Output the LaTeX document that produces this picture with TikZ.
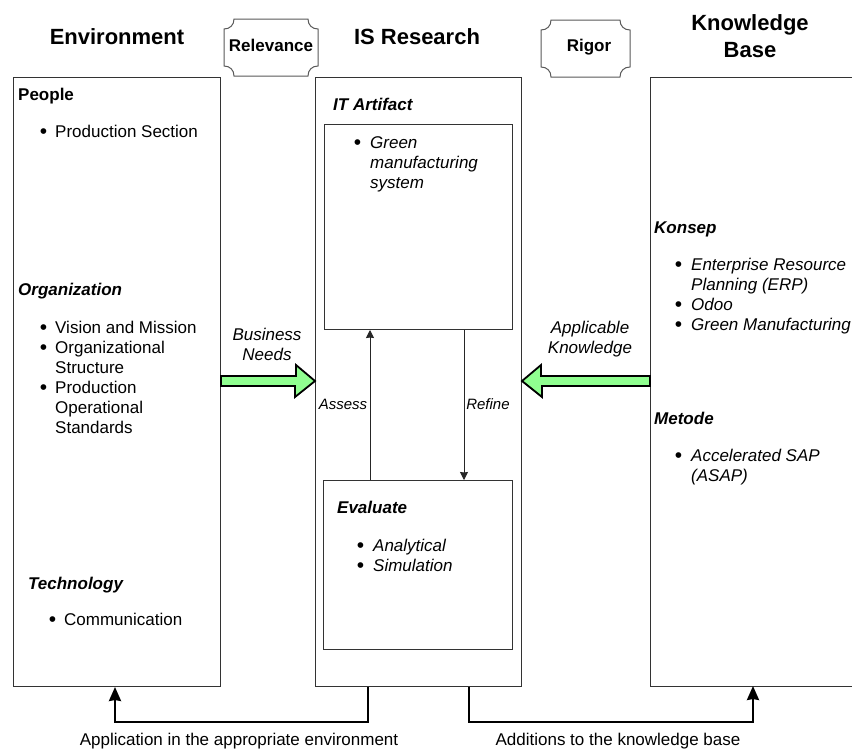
\documentclass[tikz,border=0pt]{standalone}
\usepackage{fontspec}
\setmainfont{Liberation Sans}
\usetikzlibrary{arrows.meta,calc}
\definecolor{arrowgreen}{HTML}{90FF90}
\newcommand{\stacked}[1]{\begin{tabular}[t]{@{}l@{}}#1\end{tabular}}
\newcommand{\plaquepath}[4]{%
 \draw[plaque] (#1+10,#2) -- (#3-10,#2) .. controls (#3-10,#2+6) and (#3-6,#2+10) .. (#3,#2+10)
   -- (#3,#4-10) .. controls (#3-6,#4-10) and (#3-10,#4-6) .. (#3-10,#4)
   -- (#1+10,#4) .. controls (#1+10,#4-6) and (#1+6,#4-10) .. (#1,#4-10)
   -- (#1,#2+10) .. controls (#1+6,#2+10) and (#1+10,#2+6) .. (#1+10,#2) -- cycle;}
\tikzset{
  x=1pt,y=-1pt,
  panel/.style={draw=black!80,line width=1pt,fill=white,inner sep=0pt,anchor=north west},
  title/.style={font=\fontsize{22}{27}\selectfont\bfseries,align=center,anchor=center,inner sep=0pt},
  plaquetext/.style={font=\fontsize{17}{20}\selectfont\bfseries,anchor=center,inner sep=0pt},
  head/.style={font=\fontsize{17}{20}\selectfont\bfseries,anchor=base west,inner sep=0pt},
  ihead/.style={font=\fontsize{17}{20}\selectfont\bfseries\itshape,anchor=base west,inner sep=0pt},
  item/.style={font=\fontsize{17}{20}\selectfont,anchor=base west,inner sep=0pt},
  iitem/.style={font=\fontsize{17}{20}\selectfont\itshape,anchor=base west,inner sep=0pt},
  dotmark/.style={font=\fontsize{21}{20}\selectfont,anchor=base,inner sep=0pt,xshift=-1.5pt,yshift=-1.6pt},
  smalllabel/.style={font=\fontsize{15}{18}\selectfont\itshape,anchor=center,inner sep=0pt},
  flowlabel/.style={font=\fontsize{17}{20}\selectfont\itshape,align=center,anchor=center,inner sep=0pt},
  bottomlabel/.style={font=\fontsize{17}{20}\selectfont,anchor=center,inner sep=0pt},
  plaque/.style={draw=black!65,line width=1pt,fill=white},
  blockarrow/.style={draw=black,line width=1.8pt,fill=arrowgreen,line join=miter},
  thin arrow/.style={draw=black!85,line width=0.9pt,-{Stealth[length=8pt,width=8pt,inset=0.5pt]}},
  thick arrow/.style={draw=black,line width=2.4pt,-{Stealth[length=14pt,width=12pt,inset=1pt]}},
}
\begin{document}
\begin{tikzpicture}
\renewcommand{\arraystretch}{1}
\useasboundingbox (0,0) rectangle (852,750);
\fill[white] (0,0) rectangle (852,750);
% panels
\node[panel,minimum width=207pt,minimum height=609pt] (env) at (13,77) {};
\node[panel,minimum width=206pt,minimum height=609pt] (isr) at (315,77) {};
\draw[draw=black!80,line width=1pt] (852,77) -- (650,77) -- (650,686) -- (852,686);
\coordinate (kbleft) at (650,381);
\node[panel,minimum width=188pt,minimum height=205pt] (art) at (324,124) {};
\node[panel,minimum width=189pt,minimum height=169pt] (eval) at (323,480) {};
% titles
\node[title] (t1) at (117,37) {Environment};
\node[title] (t2) at (417,37) {IS Research};
\node[title] (t3) at (750,36) {Knowledge\\Base};
% plaques
\plaquepath{224}{19}{318}{76}
\node[plaquetext] (rel) at (271,45) {Relevance};
\plaquepath{541}{20}{630}{77}
\node[plaquetext] (rig) at (589,47) {Rigor};
% environment
\node[head] (p) at (18,100) {People};
\node[dotmark] (b1) at (45,137) {•};
\node[item] (p1) at (55,137) {Production Section};
\node[ihead] (o) at (18,295) {Organization};
\node[dotmark] (b2) at (45,333) {•};
\node[item] (o1) at (55,333) {Vision and Mission};
\node[dotmark] (b3) at (45,353) {•};
\node[item] (o2) at (55,353) {\stacked{Organizational\\Structure}};
\node[dotmark] (b4) at (45,393) {•};
\node[item] (o3) at (55,393) {\stacked{Production\\Operational\\Standards}};
\node[ihead] (te) at (28,589) {Technology};
\node[dotmark] (b5) at (54,625) {•};
\node[item] (te1) at (64,625) {Communication};
% IS research
\node[ihead] (a) at (333,110) {IT Artifact};
\node[dotmark] (b6) at (359,148) {•};
\node[iitem] (a1) at (370,148) {\stacked{Green\\manufacturing\\system}};
\node[ihead] (ev) at (337,513) {Evaluate};
\node[dotmark] (b7) at (362,551) {•};
\node[iitem] (ev1) at (373,551) {Analytical};
\node[dotmark] (b8) at (362,571) {•};
\node[iitem] (ev2) at (373,571) {Simulation};
% knowledge base
\node[ihead] (k) at (654,233) {Konsep};
\node[dotmark] (b9) at (680,270) {•};
\node[iitem] (k1) at (691,270) {\stacked{Enterprise Resource\\Planning (ERP)}};
\node[dotmark] (b10) at (680,310) {•};
\node[iitem] (k2) at (691,310) {Odoo};
\node[dotmark] (b11) at (680,330) {•};
\node[iitem] (k3) at (691,330) {Green Manufacturing};
\node[ihead] (m) at (654,424) {Metode};
\node[dotmark] (b12) at (680,461) {•};
\node[iitem] (m1) at (691,461) {\stacked{Accelerated SAP\\(ASAP)}};
% flow labels
\node[flowlabel] (bn) at (267,344) {Business\\Needs};
\node[flowlabel] (ak) at (590,339) {Applicable\\Knowledge};
\node[smalllabel] (as) at (343,404) {Assess};
\node[smalllabel] (re) at (488,404) {Refine};
% block arrows
\path (env.east |- kbleft) coordinate (ba);
\path (isr.west |- kbleft) coordinate (bb);
\path (isr.east |- kbleft) coordinate (bc);
\draw[blockarrow] ($(ba)+(0,-5)$) -- ++(75,0) -- ++(0,-11) -- (bb) -- ++(-20,16) -- ++(0,-11) -- ($(ba)+(0,5)$) -- cycle;
\draw[blockarrow] ($(kbleft)+(0,-5)$) -- ++(-109,0) -- ++(0,-11) -- (bc) -- ++(20,16) -- ++(0,-11) -- ($(kbleft)+(0,5)$) -- cycle;
% inner arrows
\coordinate (asx) at (370,400);
\coordinate (rex) at (464,400);
\draw[thin arrow] (eval.north -| asx) -- (art.south -| asx);
\draw[thin arrow] (art.south -| rex) -- (eval.north -| rex);
% bottom arrows
\coordinate (c1) at (368,722);
\coordinate (c2) at (115,722);
\coordinate (c3) at (469,722);
\coordinate (c4) at (753,722);
\coordinate (kbbottom) at (650,686);
\draw[thick arrow] (isr.south -| c1) -- (c1) -- (c2) -- (env.south -| c2);
\draw[thick arrow] (isr.south -| c3) -- (c3) -- (c4) -- (kbbottom -| c4);
\node[bottomlabel] (l1) at (239,741) {Application in the appropriate environment};
\node[bottomlabel] (l2) at (618,741) {Additions to the knowledge base};
\end{tikzpicture}
\end{document}
